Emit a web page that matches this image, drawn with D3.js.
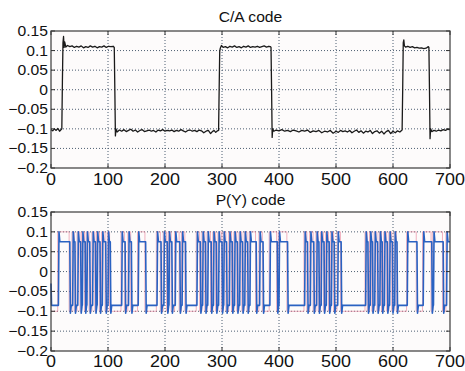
<!DOCTYPE html>
<html>
<head>
<meta charset="utf-8">
<script src="https://cdn.jsdelivr.net/npm/d3@7"></script>
<style>
  html, body { margin: 0; padding: 0; background: #fff; }
  text { font-family: 'Liberation Sans', Arial, Helvetica, sans-serif; fill: #111; }
</style>
</head>
<body>
<div id="chart"></div>
<script>
const xTicks = [0, 100, 200, 300, 400, 500, 600, 700];
const yTicks = [0.15, 0.1, 0.05, 0, -0.05, -0.1, -0.15, -0.2];
const yTickLabels = ['0.15', '0.1', '0.05', '0', '\u22120.05', '\u22120.1', '\u22120.15', '\u22120.2'];
const titles = ['C/A code', 'P(Y) code'];

// C/A code trace
const caPoints = [
  [0, -0.102], [3, -0.105], [6, -0.1], [9, -0.104], [12, -0.099], [15, -0.106], [17, -0.103], [19, -0.1],
  [20, 0.02], [21, 0.12], [22, 0.136], [23, 0.108], [24, 0.122], [26, 0.109], [29, 0.113], [33, 0.11],
  [37, 0.112], [41, 0.108], [45, 0.111], [49, 0.109], [53, 0.112], [57, 0.107], [61, 0.11], [65, 0.108],
  [69, 0.112], [73, 0.109], [77, 0.111], [81, 0.107], [85, 0.11], [89, 0.109], [93, 0.112], [97, 0.108],
  [101, 0.111], [105, 0.11], [109, 0.111], [111, 0.108], [112, 0.0], [113, -0.118], [114, -0.1], [116, -0.108],
  [120, -0.103], [124, -0.106], [128, -0.102], [132, -0.107], [136, -0.104], [140, -0.101], [144, -0.106],
  [148, -0.103], [152, -0.108], [156, -0.104], [160, -0.102], [164, -0.107], [168, -0.105], [172, -0.103],
  [176, -0.106], [180, -0.104], [184, -0.108], [188, -0.103], [192, -0.105], [196, -0.102], [200, -0.106],
  [204, -0.104], [208, -0.105], [212, -0.103], [216, -0.107], [220, -0.104], [224, -0.106], [228, -0.102],
  [232, -0.105], [236, -0.108], [240, -0.104], [244, -0.103], [248, -0.106], [252, -0.104], [256, -0.107],
  [260, -0.103], [264, -0.105], [268, -0.11], [272, -0.106], [276, -0.104], [280, -0.112], [283, -0.107],
  [286, -0.104], [289, -0.109], [292, -0.105], [294, -0.104], [295, 0.0], [296, 0.098], [297, 0.106],
  [299, 0.113], [302, 0.108], [306, 0.11], [310, 0.107], [314, 0.111], [318, 0.109], [322, 0.112],
  [326, 0.108], [330, 0.11], [334, 0.107], [338, 0.111], [342, 0.109], [346, 0.112], [350, 0.108],
  [354, 0.11], [358, 0.109], [362, 0.111], [366, 0.108], [370, 0.11], [374, 0.112], [378, 0.109],
  [382, 0.111], [385, 0.11], [386, 0.108], [387, 0.0], [388, -0.122], [389, -0.1], [391, -0.106],
  [395, -0.103], [400, -0.105], [405, -0.102], [410, -0.106], [415, -0.104], [420, -0.107], [425, -0.103],
  [430, -0.105], [435, -0.108], [440, -0.104], [445, -0.106], [450, -0.103], [455, -0.109], [460, -0.105],
  [465, -0.107], [470, -0.104], [475, -0.11], [480, -0.106], [485, -0.108], [490, -0.104], [495, -0.111],
  [500, -0.106], [504, -0.109], [508, -0.104], [512, -0.107], [516, -0.105], [520, -0.108], [524, -0.104],
  [528, -0.11], [532, -0.106], [536, -0.103], [540, -0.109], [544, -0.105], [548, -0.111], [552, -0.106],
  [556, -0.108], [560, -0.104], [564, -0.112], [568, -0.107], [572, -0.105], [576, -0.111], [580, -0.106],
  [584, -0.113], [588, -0.107], [592, -0.104], [596, -0.112], [600, -0.106], [604, -0.11], [608, -0.105],
  [612, -0.108], [615, -0.104], [616, -0.103], [617, 0.0], [618, 0.12], [619, 0.127], [620, 0.112],
  [622, 0.109], [626, 0.111], [630, 0.108], [634, 0.11], [638, 0.107], [642, 0.108], [646, 0.106],
  [650, 0.107], [654, 0.105], [658, 0.106], [662, 0.11], [663, 0.108], [664, 0.0], [665, -0.125],
  [666, -0.1], [668, -0.107], [672, -0.104], [676, -0.106], [680, -0.103], [684, -0.105], [688, -0.102],
  [692, -0.104], [696, -0.101], [700, -0.102]
];

// P(Y) code: times where the chip level flips, starting low
const pyEdges = [13, 33, 38, 42, 47, 52, 55, 60, 63, 68, 73, 78, 81, 86, 90, 96, 100, 104, 124, 130, 136, 141,
  153, 166, 186, 193, 198, 204, 207, 212, 218, 226, 230, 236, 256, 262, 266, 271, 275, 281, 285, 290, 294,
  300, 303, 308, 313, 318, 322, 327, 331, 336, 340, 345, 349, 360, 366, 372, 384, 397, 400, 415, 445, 450,
  455, 461, 466, 470, 474, 479, 483, 488, 492, 497, 503, 509, 552, 556, 560, 564, 568, 573, 577, 581, 585,
  590, 594, 599, 603, 607, 625, 642, 653, 668, 671, 688, 694];
const pyLevels = { high: 0.075, low: -0.085, peakHigh: 0.1, peakLow: -0.105, ideal: 0.1 };

const W = 465, H = 371;
const panels = [
  { top: 31, bottom: 168, labelY: 185, titleY: 22 },
  { top: 212, bottom: 351, labelY: 367, titleY: 205 }
];
const left = 51, right = 450;

const svg = d3.select('#chart').append('svg').attr('width', W).attr('height', H);
const x = d3.scaleLinear().domain([0, 700]).range([left, right]);

// P(Y) blue trace and ideal red trace built from the flips
const pyBlue = [[0, -0.03], [1, pyLevels.low]];
const pyRed = [[0, -pyLevels.ideal]];
let isHigh = false;
pyEdges.forEach(t => {
  const settle = isHigh ? pyLevels.high : pyLevels.low;
  isHigh = !isHigh;
  pyBlue.push([t, settle], [t + 1, isHigh ? pyLevels.peakHigh : pyLevels.peakLow], [t + 2.5, isHigh ? pyLevels.high : pyLevels.low]);
  pyRed.push([t - 1.2, isHigh ? -pyLevels.ideal : pyLevels.ideal], [t - 1.2, isHigh ? pyLevels.ideal : -pyLevels.ideal]);
});
pyBlue.push([700, isHigh ? pyLevels.high : pyLevels.low]);
pyRed.push([700, isHigh ? pyLevels.ideal : -pyLevels.ideal]);

const stretch = 1.12;
function label(g, px, py, str, size, anchor) {
  g.append('text')
    .attr('transform', 'translate(' + px + ',' + py + ') scale(' + stretch + ',1)')
    .attr('text-anchor', anchor)
    .style('font-size', size + 'px')
    .text(str);
}

panels.forEach((p, i) => {
  const y = d3.scaleLinear().domain([-0.2, 0.15]).range([p.bottom, p.top]);
  const g = svg.append('g');

  g.append('rect').attr('x', left).attr('y', p.top).attr('width', right - left).attr('height', p.bottom - p.top)
    .attr('fill', '#fdfbfb');

  // dotted grid
  g.append('g').selectAll('line').data(xTicks.slice(1, -1)).enter().append('line')
    .attr('x1', d => x(d)).attr('x2', d => x(d)).attr('y1', p.top).attr('y2', p.bottom)
    .attr('stroke', '#4d5e72').attr('stroke-width', 1).attr('stroke-dasharray', '1,2');
  g.append('g').selectAll('line').data(yTicks.slice(1, -1)).enter().append('line')
    .attr('x1', left).attr('x2', right).attr('y1', d => y(d)).attr('y2', d => y(d))
    .attr('stroke', '#4d5e72').attr('stroke-width', 1).attr('stroke-dasharray', '1,2');

  const line = d3.line().x(d => x(d[0])).y(d => y(d[1]));
  if (i === 0) {
    g.append('path').datum(caPoints).attr('d', line).attr('fill', 'none')
      .attr('stroke', '#1a1a1a').attr('stroke-width', 1.3).attr('stroke-linejoin', 'round');
  } else {
    g.append('path').datum(pyRed).attr('d', line).attr('fill', 'none')
      .attr('stroke', '#e8849a').attr('stroke-width', 0.9).attr('opacity', 0.7);
    g.append('path').datum(pyBlue).attr('d', line).attr('fill', 'none')
      .attr('stroke', '#2a62c2').attr('stroke-width', 1.6).attr('stroke-linejoin', 'round');
  }

  // ticks inside the box
  g.append('g').selectAll('line').data(xTicks).enter().append('line')
    .attr('x1', d => x(d)).attr('x2', d => x(d)).attr('y1', p.bottom).attr('y2', p.bottom - 4)
    .attr('stroke', '#333');
  g.append('g').selectAll('line').data(xTicks).enter().append('line')
    .attr('x1', d => x(d)).attr('x2', d => x(d)).attr('y1', p.top).attr('y2', p.top + 4)
    .attr('stroke', '#333');
  g.append('g').selectAll('line').data(yTicks).enter().append('line')
    .attr('x1', left).attr('x2', left + 4).attr('y1', d => y(d)).attr('y2', d => y(d))
    .attr('stroke', '#333');
  g.append('g').selectAll('line').data(yTicks).enter().append('line')
    .attr('x1', right).attr('x2', right - 4).attr('y1', d => y(d)).attr('y2', d => y(d))
    .attr('stroke', '#333');

  g.append('rect').attr('x', left).attr('y', p.top).attr('width', right - left).attr('height', p.bottom - p.top)
    .attr('fill', 'none').attr('stroke', '#3a3a3a').attr('stroke-width', 1.2);

  xTicks.forEach(d => label(g, x(d), p.labelY, String(d), 16, 'middle'));
  yTicks.forEach((d, k) => label(g, left - 3, y(d) + 5, yTickLabels[k], 14, 'end'));
  label(g, (left + right) / 2, p.titleY, titles[i], 14, 'middle');
});
</script>
</body>
</html>
